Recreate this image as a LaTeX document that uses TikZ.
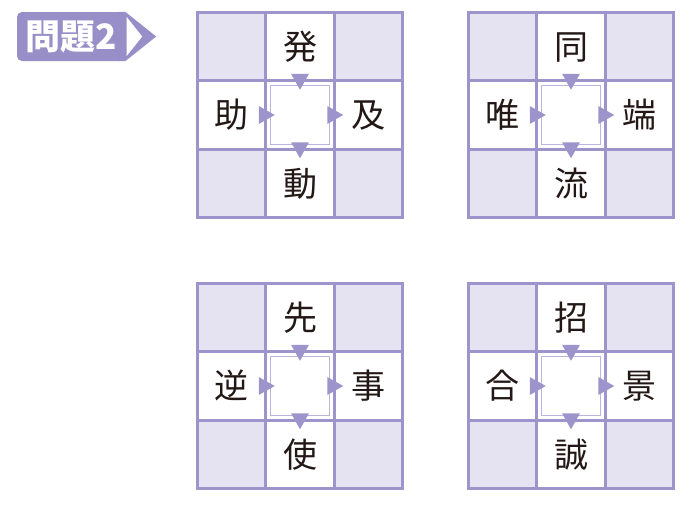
\documentclass[tikz,border=0pt]{standalone}
\usepackage{fontspec}
\newfontfamily\jpfont{Noto Sans CJK JP}
\definecolor{frame}{RGB}{158,148,204}
\definecolor{shade}{RGB}{229,227,242}
\definecolor{innerline}{RGB}{186,180,222}
\definecolor{tagfill}{RGB}{152,142,200}
\definecolor{ink}{RGB}{35,24,21}
\usepackage{tikz}
\usetikzlibrary{positioning,calc}

% one 3x3 puzzle: name, centre, top, left, right, bottom
\newcommand\jukugrid[6]{%
  \node[cell] (#1-c) at #2 {};
  \node[cell,above=0pt of #1-c] (#1-t) {#3};
  \node[cell,left=0pt of #1-c] (#1-l) {#4};
  \node[cell,right=0pt of #1-c] (#1-r) {#5};
  \node[cell,below=0pt of #1-c] (#1-b) {#6};
  \node[cell,fill=shade,above left=0pt and 0pt of #1-c] (#1-tl) {};
  \node[cell,fill=shade,above right=0pt and 0pt of #1-c] (#1-tr) {};
  \node[cell,fill=shade,below left=0pt and 0pt of #1-c] (#1-bl) {};
  \node[cell,fill=shade,below right=0pt and 0pt of #1-c] (#1-br) {};
  \node[innerbox] (#1-in) at (#1-c) {};
  \pic at (#1-t.south) {tri};
  \pic[rotate=90] at (#1-l.east) {tri};
  \pic[rotate=90] at (#1-c.east) {tri};
  \pic at (#1-c.south) {tri};
}

\begin{document}
\begin{tikzpicture}[x=1pt,y=-1pt,
    cell/.style={draw=frame,line width=2.6pt,minimum size=68.5pt,inner sep=0pt,outer sep=0pt,
      text=ink,font=\jpfont\fontsize{34}{34}\selectfont,text height=29.5pt,text depth=4.5pt},
    innerbox/.style={draw=innerline,line width=1pt,minimum size=59pt,inner sep=0pt},
    tagbox/.style={fill=tagfill,rounded corners=5pt,minimum width=108pt,minimum height=49pt,
      inner sep=0pt,text=white,font=\jpfont\bfseries\fontsize{35}{35}\selectfont,
      text height=30.5pt,text depth=4.5pt},
    tri/.pic={\fill[frame] (-9,-7) -- (9,-7) -- (0,9) -- cycle;}]
  \useasboundingbox (0,0) rectangle (700,504);

  % label
  \node[tagbox] (tag) at (71,36.5) {問題2};
  \fill[tagfill] ($(tag.north east)+(-6,0)$) -- (tag.north east) -- ($(tag.east)+(31,0)$)
    -- (tag.south east) -- ($(tag.south east)+(-6,0)$) -- cycle;
  \fill[white] ($(tag.east)+(1.5,-19.5)$) -- ($(tag.east)+(17,0)$) -- ($(tag.east)+(1.5,19.5)$) -- cycle;

  % puzzles
  \jukugrid{ga}{(300,115)}{発}{助}{及}{動}
  \jukugrid{gb}{(571,115)}{同}{唯}{端}{流}
  \jukugrid{gc}{(300,386)}{先}{逆}{事}{使}
  \jukugrid{gd}{(571,386)}{招}{合}{景}{誠}
\end{tikzpicture}
\end{document}
